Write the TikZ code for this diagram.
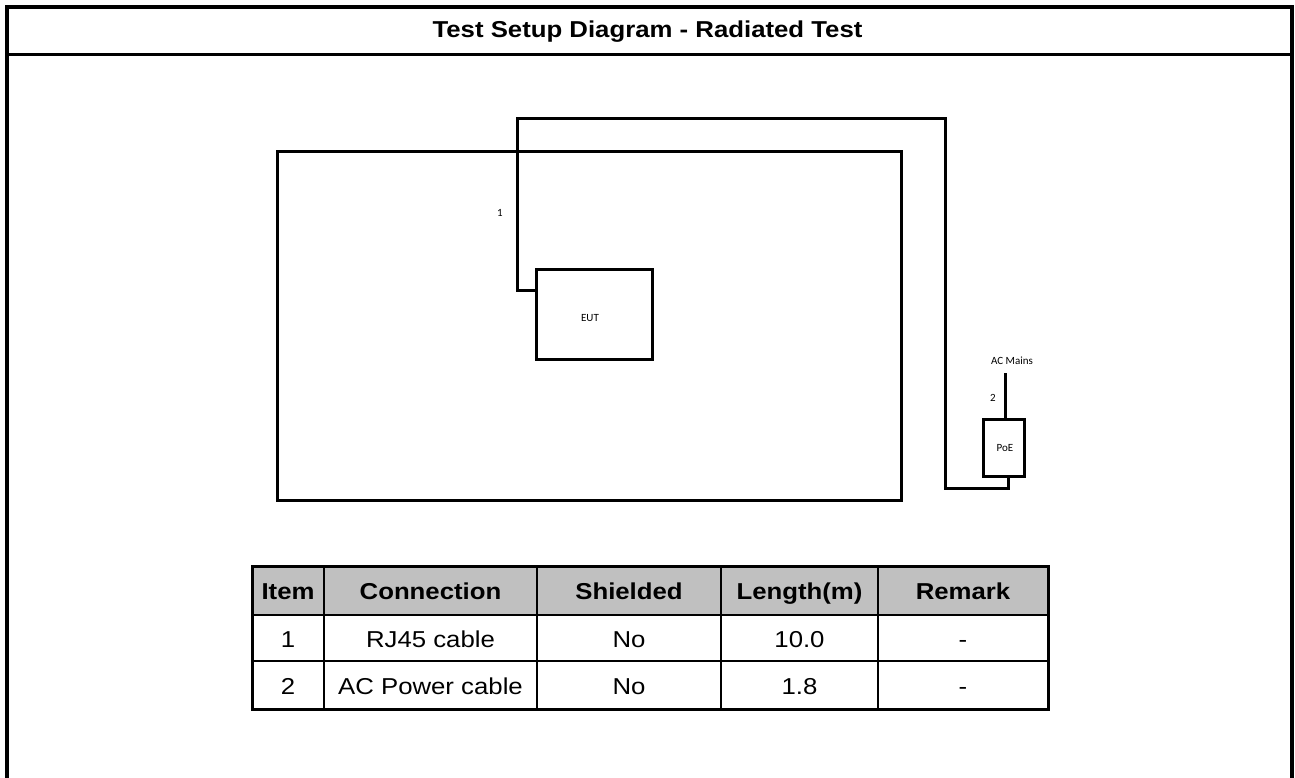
\documentclass[tikz,border=0pt]{standalone}
\usepackage{fontspec}
\setmainfont{Liberation Sans}
\newfontfamily\wfont[FakeStretch=1.12]{Liberation Sans}
\newfontfamily\cfont{Carlito}
\definecolor{hdr}{HTML}{C0C0C0}
\begin{document}
\begin{tikzpicture}[x=1pt,y=-1pt,
  frame/.style={line width=4pt},
  divider/.style={line width=3pt},
  titletext/.style={font=\wfont\bfseries\fontsize{23}{27}\selectfont, inner sep=0pt},
  headtext/.style={font=\wfont\bfseries\fontsize{23}{27}\selectfont, inner sep=0pt},
  celltext/.style={font=\wfont\fontsize{23}{27}\selectfont, inner sep=0pt},
  tabline/.style={line width=2.5pt},
  taboutline/.style={line width=3pt},
  cable/.style={line width=3pt, line join=miter},
  boxstyle/.style={draw, line width=3pt, inner sep=0pt},
  smalltext/.style={font=\cfont\fontsize{11}{13}\selectfont, inner sep=0pt}
]
\useasboundingbox (0,0) rectangle (1295,778);

% outer frame and title
\draw[frame] (7,790) -- (7,7) -- (1292,7) -- (1292,790);
\draw[divider] (7,55) -- (1292,55);
\node[titletext] (title) at (647.5,32) {Test Setup Diagram - Radiated Test};

% test setup drawing
\node[boxstyle, minimum width=624pt, minimum height=348pt] (tbl) at (589,326) {};
\node[boxstyle, minimum width=115.6pt, minimum height=90.3pt] (eut) at (594.5,314.2) {};
\node[smalltext] (eutlabel) at (590,318) {EUT};
\node[boxstyle, minimum width=41pt, minimum height=57.4pt] (poe) at (1003.8,448) {};
\node[smalltext] (poelabel) at (1005,448) {PoE};

\coordinate (k0) at (517.7,290);
\coordinate (k1) at (517.7,118.3);
\coordinate (k2) at (945,118.3);
\coordinate (k3) at (945,488.3);
\coordinate (k4) at (1008.3,488.3);
\draw[cable] (eut.west |- k0) -- (k0) -- (k1) -- (k2) -- (k3) -- (k4) -- (poe.south -| k4);
\node[smalltext] (lab1) at (500,213) {1};

\coordinate (acm) at (1005,373.3);
\draw[cable] (poe.north -| acm) -- (acm);
\node[smalltext] (aclabel) at (1012,361) {AC Mains};
\node[smalltext] (lab2) at (993,398) {2};

% cable table
\fill[hdr] (252,566) rectangle (1048,615);
\draw[tabline] (252,615) -- (1048,615);
\draw[tabline] (252,661) -- (1048,661);
\draw[tabline] (324,566) -- (324,709);
\draw[tabline] (537,566) -- (537,709);
\draw[tabline] (721,566) -- (721,709);
\draw[tabline] (878,566) -- (878,709);
\draw[taboutline] (252,566) rectangle (1048,709);

\node[headtext, anchor=base] (h1) at (288,599) {Item};
\node[headtext, anchor=base] (h2) at (430.5,599) {Connection};
\node[headtext, anchor=base] (h3) at (629,599) {Shielded};
\node[headtext, anchor=base] (h4) at (799.5,599) {Length(m)};
\node[headtext, anchor=base] (h5) at (963,599) {Remark};

\node[celltext, anchor=base] (r11) at (288,647) {1};
\node[celltext, anchor=base] (r12) at (430.5,647) {RJ45 cable};
\node[celltext, anchor=base] (r13) at (629,647) {No};
\node[celltext, anchor=base] (r14) at (799.5,647) {10.0};
\node[celltext, anchor=base] (r15) at (963,647) {-};

\node[celltext, anchor=base] (r21) at (288,694) {2};
\node[celltext, anchor=base] (r22) at (430.5,694) {AC Power cable};
\node[celltext, anchor=base] (r23) at (629,694) {No};
\node[celltext, anchor=base] (r24) at (799.5,694) {1.8};
\node[celltext, anchor=base] (r25) at (963,694) {-};
\end{tikzpicture}
\end{document}
